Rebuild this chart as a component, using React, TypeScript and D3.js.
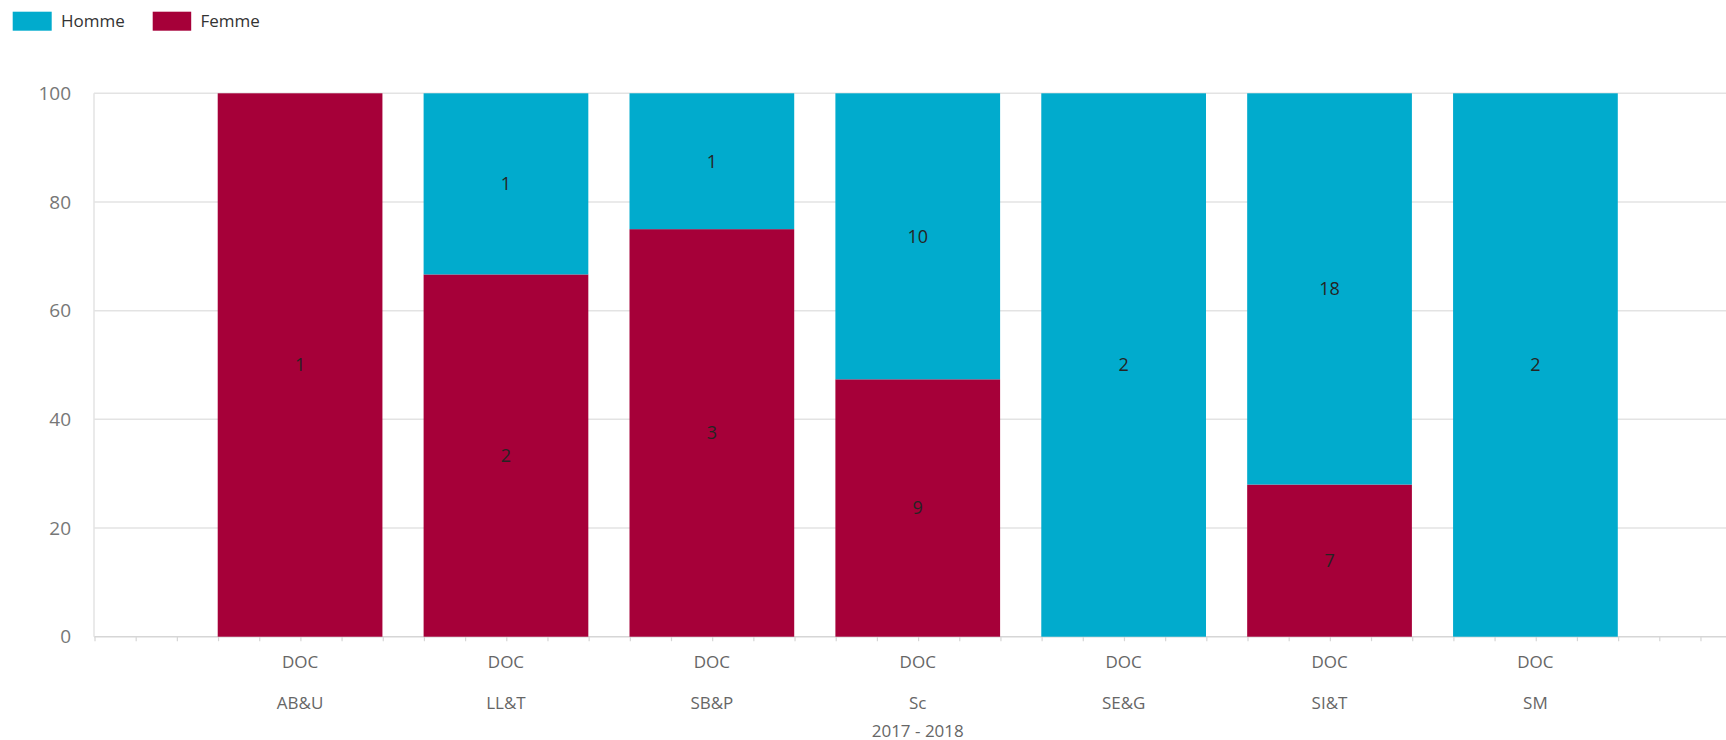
import React from 'react';
import * as d3 from 'd3';

const categories = ['AB&U', 'LL&T', 'SB&P', 'Sc', 'SE&G', 'SI&T', 'SM'];
const levelLabels = ['DOC', 'DOC', 'DOC', 'DOC', 'DOC', 'DOC', 'DOC'];
const yearLabel = '2017 - 2018';
const homme = [0, 1, 1, 10, 2, 18, 2];
const femme = [1, 2, 3, 9, 0, 7, 0];
const yTicks = [0, 20, 40, 60, 80, 100];

const seriesKeys = ['femme', 'homme'];
const seriesNames: Record<string, string> = { homme: 'Homme', femme: 'Femme' };
const colors: Record<string, string> = { homme: '#01abcd', femme: '#a60039' };

const W = 1726;
const H = 740;
const FONT = '"Segoe UI", "Open Sans", sans-serif';

const App: React.FC = () => {
  const margin = { top: 93.3, left: 95, bottom: 636.7, right: 1740.5 };

  const rows = categories.map((c, i) => ({ cat: c, homme: homme[i], femme: femme[i] }));
  const stacked = d3.stack<any>().keys(seriesKeys).offset(d3.stackOffsetExpand)(rows);

  const x = d3.scaleBand()
    .domain(categories)
    .range([margin.left, margin.right])
    .paddingInner(0.2)
    .paddingOuter(0.596);

  const y = d3.scaleLinear().domain([0, 100]).range([margin.bottom, margin.top]);

  // small ticks along the category axis, five per band step
  const minorStep = x.step() / 5;
  const minorTicks = d3.range(margin.left, W + 1, minorStep);

  const center = (x(categories[0]) as number + (x(categories[categories.length - 1]) as number) + x.bandwidth()) / 2;

  return (
    <svg width={W} height={H} style={{ position: 'absolute', left: 0, top: 0, background: '#fff' }} fontFamily={FONT}>
      {/* legend */}
      <g>
        <rect x={12.7} y={11.7} width={39} height={19} fill={colors.homme} />
        <text x={61} y={26.5} fontSize={17} fill="#333">{seriesNames.homme}</text>
        <rect x={152.7} y={11.7} width={38.5} height={19} fill={colors.femme} />
        <text x={200.5} y={26.5} fontSize={17} fill="#333">{seriesNames.femme}</text>
      </g>

      {/* gridlines */}
      {yTicks.map(t => (
        <line key={t} x1={margin.left - 1} x2={W} y1={y(t)} y2={y(t)}
          stroke={t === 0 ? '#d6d6d6' : '#e3e3e3'} strokeWidth={1.5} />
      ))}
      <line x1={margin.left - 1} x2={margin.left - 1} y1={y(100)} y2={y(0)} stroke="#e3e3e3" strokeWidth={1.5} />

      {/* y labels */}
      {yTicks.map(t => (
        <text key={t} x={71} y={y(t)} dy="0.35em" textAnchor="end" fontSize={19} fill="#777">{t}</text>
      ))}

      {/* minor ticks */}
      {minorTicks.map((t, i) => (
        <line key={i} x1={t} x2={t} y1={y(0)} y2={y(0) + 4.5} stroke="#d6d6d6" strokeWidth={1.2} />
      ))}

      {/* bars */}
      {stacked.map(s => (
        <g key={s.key} fill={colors[s.key]}>
          {s.map((d, i) => {
            const y0 = y(d[0] * 100);
            const y1 = y(d[1] * 100);
            if (y0 - y1 <= 0) return null;
            return <rect key={i} x={x(categories[i])} y={y1} width={x.bandwidth()} height={y0 - y1} />;
          })}
        </g>
      ))}

      {/* data labels */}
      {stacked.map(s => (
        <g key={s.key + '-lbl'}>
          {s.map((d, i) => {
            const v = (d.data as any)[s.key];
            if (!v) return null;
            const cy = (y(d[0] * 100) + y(d[1] * 100)) / 2;
            return (
              <text key={i} x={(x(categories[i]) as number) + x.bandwidth() / 2} y={cy} dy="0.35em"
                textAnchor="middle" fontSize={18} fill="#252423">{v}</text>
            );
          })}
        </g>
      ))}

      {/* x labels */}
      {categories.map((c, i) => {
        const cx = (x(c) as number) + x.bandwidth() / 2;
        return (
          <g key={c} fontSize={17} fill="#666" textAnchor="middle">
            <text x={cx} y={668.3}>{levelLabels[i]}</text>
            <text x={cx} y={709}>{c}</text>
          </g>
        );
      })}
      <text x={center} y={736.5} fontSize={17} fill="#666" textAnchor="middle">{yearLabel}</text>
    </svg>
  );
};

export default App;
